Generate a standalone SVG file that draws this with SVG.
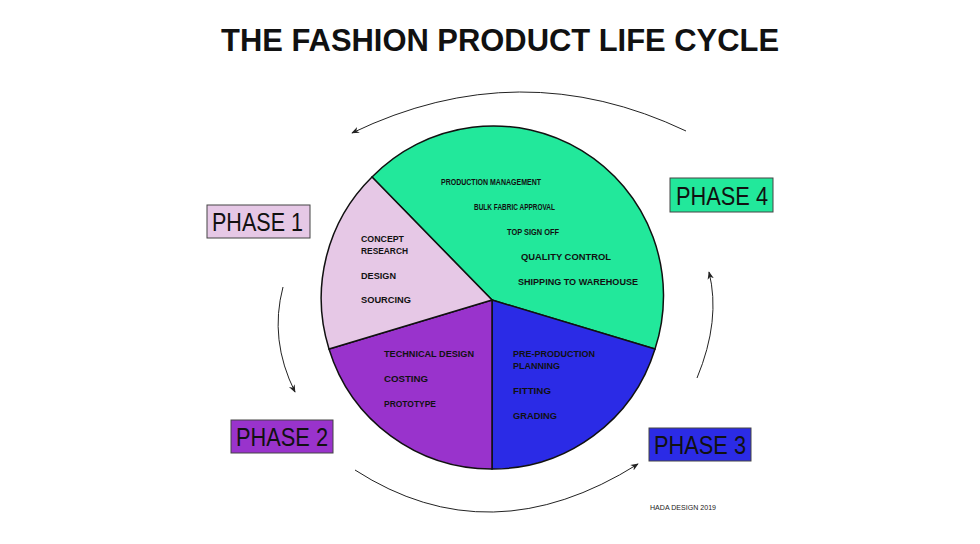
<svg xmlns="http://www.w3.org/2000/svg" width="980" height="544" viewBox="0 0 980 544">
<style>
.t{font-family:"Liberation Sans",Arial,sans-serif;font-weight:bold;font-size:9px;fill:#111}
.p{font-family:"Liberation Sans",Arial,sans-serif;font-size:25px;fill:#111}
.box{stroke:#444;stroke-width:1}
.seg{stroke:#111;stroke-width:1.5}
.arc{fill:none;stroke:#222;stroke-width:1;marker-end:url(#ah)}
</style>
<defs><marker id="ah" viewBox="0 0 10 10" refX="9" refY="5" markerWidth="8" markerHeight="8" orient="auto"><path d="M0,1 L10,5 L0,9 L3,5 Z" fill="#222"/></marker></defs>
<rect width="980" height="544" fill="#fff"/>
<text x="221" y="51" textLength="558" lengthAdjust="spacingAndGlyphs" style="font-family:'Liberation Sans',Arial,sans-serif;font-weight:bold;font-size:32px;fill:#111">THE FASHION PRODUCT LIFE CYCLE</text>
<g id="pie">
<path class="seg" d="M492,300 L372,177 A170,170 0 0 1 655,349 Z" fill="#22E89B"/>
<path class="seg" d="M492,300 L655,349 A170,170 0 0 1 492,469 Z" fill="#2B2BE6"/>
<path class="seg" d="M492,300 L492,469 A170,170 0 0 1 329,349 Z" fill="#9933CC"/>
<path class="seg" d="M492,300 L329,349 A170,170 0 0 1 372,177 Z" fill="#E6C8E6"/>
</g>
<g id="green-labels">
<text class="t" x="441" y="185" textLength="100" lengthAdjust="spacingAndGlyphs">PRODUCTION MANAGEMENT</text>
<text class="t" x="474" y="210" textLength="81" lengthAdjust="spacingAndGlyphs">BULK FABRIC APPROVAL</text>
<text class="t" x="507" y="235" textLength="52" lengthAdjust="spacingAndGlyphs">TOP SIGN OFF</text>
<text class="t" x="521" y="260" textLength="90" lengthAdjust="spacingAndGlyphs">QUALITY CONTROL</text>
<text class="t" x="518" y="285" textLength="120" lengthAdjust="spacingAndGlyphs">SHIPPING TO WAREHOUSE</text>
</g>
<g id="pink-labels">
<text class="t" x="361" y="242" textLength="43" lengthAdjust="spacingAndGlyphs">CONCEPT</text>
<text class="t" x="361" y="254" textLength="47" lengthAdjust="spacingAndGlyphs">RESEARCH</text>
<text class="t" x="361" y="279" textLength="35" lengthAdjust="spacingAndGlyphs">DESIGN</text>
<text class="t" x="361" y="303" textLength="50" lengthAdjust="spacingAndGlyphs">SOURCING</text>
</g>
<g id="purple-labels">
<text class="t" x="384" y="357" textLength="90" lengthAdjust="spacingAndGlyphs">TECHNICAL DESIGN</text>
<text class="t" x="384" y="382" textLength="44" lengthAdjust="spacingAndGlyphs">COSTING</text>
<text class="t" x="384" y="407" textLength="52" lengthAdjust="spacingAndGlyphs">PROTOTYPE</text>
</g>
<g id="blue-labels">
<text class="t" x="513" y="357" textLength="82" lengthAdjust="spacingAndGlyphs">PRE-PRODUCTION</text>
<text class="t" x="513" y="369" textLength="47" lengthAdjust="spacingAndGlyphs">PLANNING</text>
<text class="t" x="513" y="394" textLength="38" lengthAdjust="spacingAndGlyphs">FITTING</text>
<text class="t" x="513" y="419" textLength="44" lengthAdjust="spacingAndGlyphs">GRADING</text>
</g>
<g id="phase1"><rect class="box" x="207" y="205" width="103" height="33" fill="#E6C8E6"/><text class="p" x="212" y="231" textLength="91" lengthAdjust="spacingAndGlyphs">PHASE 1</text></g>
<g id="phase2"><rect class="box" x="231" y="420" width="102" height="33" fill="#9933CC"/><text class="p" x="236" y="446" textLength="92" lengthAdjust="spacingAndGlyphs">PHASE 2</text></g>
<g id="phase3"><rect class="box" x="649" y="428" width="102" height="33" fill="#2B2BE6"/><text class="p" x="654" y="454" textLength="92" lengthAdjust="spacingAndGlyphs">PHASE 3</text></g>
<g id="phase4"><rect class="box" x="670" y="178" width="103" height="34" fill="#22E89B"/><text class="p" x="676" y="205" textLength="92" lengthAdjust="spacingAndGlyphs">PHASE 4</text></g>
<g id="connectors">
<path class="arc" d="M686,131 Q520,52 352,133"/>
<path class="arc" d="M283,287 Q269,340 295,392"/>
<path class="arc" d="M355,470 Q490,557 638,464"/>
<path class="arc" d="M697,378 Q721,320 709,272"/>
</g>
<text x="650" y="510" textLength="66" lengthAdjust="spacingAndGlyphs" style="font-family:'Liberation Sans',Arial,sans-serif;font-size:7px;fill:#222">HADA DESIGN 2019</text>
</svg>
